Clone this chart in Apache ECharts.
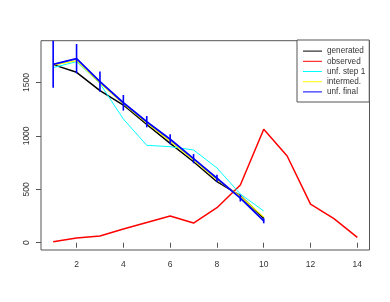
<!DOCTYPE html>
<html><head><meta charset="utf-8">
<script src="https://cdn.jsdelivr.net/npm/echarts@6/dist/echarts.min.js"></script>
<style>html,body{margin:0;padding:0;background:#fff}#c{width:390px;height:302px}</style>
</head><body><div id="c"></div>
<script>
const binsUnf = [1,2,3,4,5,6,7,8,9,10];
const binsObs = [1,2,3,4,5,6,7,8,9,10,11,12,13,14];
const generated = [1667,1595,1423,1289,1108,930,758,571,440,228];
const observed = [10,45,63,128,190,250,184,328,540,1062,812,362,225,50];
const unfStep1 = [1639,1695,1490,1158,912,899,868,700,456,297];
const intermed = [1662,1705,1495,1300,1120,950,775,590,435,240];
const unfFinal = [1670,1723,1508,1310,1133,968,787,604,418,205];
const unfErr = [220,137,94,73,53,47,43,33,32,23];
const xTicks = [2,4,6,8,10,12,14];
const yTicks = [0,500,1000,1500];
const legendNames = ['generated','observed','unf. step 1','intermed.','unf. final'];

const pairs = (xs, ys) => xs.map((x, i) => [x, ys[i]]);
const errData = binsUnf.map((x, i) => [x, unfFinal[i] - unfErr[i], unfFinal[i] + unfErr[i]]);
const font = 'Liberation Sans, Arial, sans-serif';

const chart = echarts.init(document.getElementById('c'), null, {renderer: 'canvas'});
const lineSeries = (name, xs, ys, color, w) => ({
  name, type: 'line', data: pairs(xs, ys), symbol: 'none', showSymbol: false,
  lineStyle: {color, width: w}, itemStyle: {color}, animation: false, z: 2
});
chart.setOption({
  animation: false,
  grid: {left: 41, right: 20.5, top: 40.7, bottom: 52, show: true, borderColor: '#555', borderWidth: 1, backgroundColor: 'transparent'},
  xAxis: {
    type: 'value', min: 0.48, max: 14.52,
    axisLine: {show: false}, splitLine: {show: false},
    axisTick: {show: true, customValues: xTicks, length: 5, lineStyle: {color: '#555'}},
    axisLabel: {customValues: xTicks, margin: 10, fontSize: 8.5, color: '#333', fontFamily: font}
  },
  yAxis: {
    type: 'value', min: -68, max: 1891,
    axisLine: {show: false}, splitLine: {show: false},
    axisTick: {show: true, customValues: yTicks, length: 5, lineStyle: {color: '#555'}},
    axisLabel: {customValues: yTicks, rotate: 90, margin: 10, fontSize: 8.5, color: '#333', fontFamily: font,
      formatter: v => String(v)}
  },
  legend: {
    data: legendNames.map(n => ({name: n, icon: 'rect'})), orient: 'vertical', left: 297, top: 40,
    itemWidth: 19, itemHeight: 1, itemGap: 0,
    padding: [6, 4, 5, 6], backgroundColor: '#fff', borderColor: '#555', borderWidth: 1,
    textStyle: {fontSize: 8.2, lineHeight: 10.2, color: '#333', fontFamily: font}
  },
  series: [
    lineSeries('generated', binsUnf, generated, '#000000', 1.5),
    lineSeries('observed', binsObs, observed, '#ff0000', 1.5),
    lineSeries('unf. step 1', binsUnf, unfStep1, '#00ffff', 1),
    lineSeries('intermed.', binsUnf, intermed, '#ffff00', 1.2),
    lineSeries('unf. final', binsUnf, unfFinal, '#0000ff', 1.8),
    {
      type: 'custom', name: 'err', data: errData, z: 3, silent: true,
      renderItem: (params, api) => {
        const x = api.value(0);
        const lo = api.coord([x, api.value(1)]);
        const hi = api.coord([x, api.value(2)]);
        return {type: 'line', shape: {x1: lo[0], y1: lo[1], x2: hi[0], y2: hi[1]}, style: {stroke: '#0000ff', lineWidth: 1.6}};
      }
    }
  ]
});
</script></body></html>
